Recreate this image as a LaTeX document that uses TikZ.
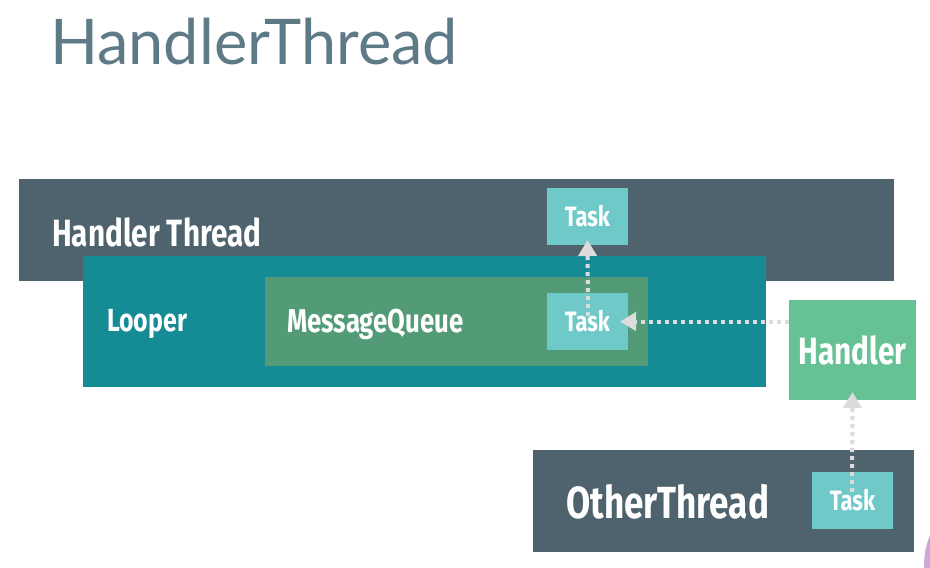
\documentclass[tikz,border=0pt]{standalone}
\usepackage{fontspec}
\usetikzlibrary{arrows.meta}
\newfontfamily\condfont[FakeStretch=0.78]{Fira Sans}
\newfontfamily\titlefont{Lato}
\definecolor{slate}{HTML}{4E636E}
\definecolor{tealbox}{HTML}{158B95}
\definecolor{mqgreen}{HTML}{539B76}
\definecolor{taskc}{HTML}{70C9C9}
\definecolor{handlerc}{HTML}{66C294}
\definecolor{titlec}{HTML}{5F7A87}
\definecolor{dotc}{HTML}{DCDCDC}
\definecolor{lav}{HTML}{C9A9D6}
\begin{document}
\begin{tikzpicture}[x=1pt,y=-1pt,
  lbl/.style={text=white,font=\condfont\bfseries,inner sep=0pt,anchor=west},
  taskbox/.style={fill=taskc,minimum width=81pt,minimum height=57pt,inner sep=0pt,outer sep=0pt,text=white,font=\condfont\bfseries\fontsize{28}{28}\selectfont},
  tasklbl/.style={text=white,font=\condfont\bfseries\fontsize{28}{28}\selectfont,inner sep=0pt},
  flow/.style={draw=dotc,line width=4pt,dash pattern=on 4pt off 4pt,-{Triangle[width=18pt,length=16pt]}}]
\useasboundingbox (0,0) rectangle (930,568);
\fill[white] (0,0) rectangle (930,568);
% title
\node[anchor=west,text=titlec,font=\titlefont\fontsize{63}{63}\selectfont,inner sep=0pt] (title) at (50,42) {HandlerThread};
% handler thread
\fill[slate] (19,179) rectangle (894,281);
\node[lbl,font=\condfont\bfseries\fontsize{38}{38}\selectfont] (htlbl) at (52,232) {Handler Thread};
% looper
\fill[tealbox] (83,256) rectangle (766,387);
\node[lbl,font=\condfont\bfseries\fontsize{32}{32}\selectfont] (looperlbl) at (107,324) {Looper};
% message queue
\fill[mqgreen] (265,277) rectangle (648,366);
\node[lbl,font=\condfont\bfseries\fontsize{33}{33}\selectfont] (mqlbl) at (287,324) {MessageQueue};
% tasks
\node[taskbox] (task1) at (587.5,216.5) {Task};
\node[taskbox] (task2) at (587.5,321.5) {};
% handler
\node[fill=handlerc,minimum width=127pt,minimum height=100pt,inner sep=0pt,outer sep=0pt,text=white,font=\condfont\bfseries\fontsize{38}{38}\selectfont] (handler) at (852.5,350) {Handler};
% other thread
\fill[slate] (533,450) rectangle (914,552);
\node[lbl,font=\condfont\bfseries\fontsize{45}{45}\selectfont] (otlbl) at (566,502) {OtherThread};
\node[taskbox] (task3) at (852.5,500.5) {};
% lavender shape
\begin{scope}
\clip (0,0) rectangle (930,568);
\fill[lav] (950,566) ellipse (26pt and 48pt);
\end{scope}
% arrows
\coordinate (s2) at (588,316);
\draw[flow] (s2) -- ([yshift=5pt]task1.south);
\draw[flow] (handler.west |- task2.east) -- ([xshift=-8pt]task2.east);
\coordinate (s3) at (852,492);
\draw[flow] (s3) -- ([yshift=8pt]handler.south);
% task labels on top
\node[tasklbl] (t2lbl) at (task2) {Task};
\node[tasklbl] (t3lbl) at (task3) {Task};
\end{tikzpicture}
\end{document}
